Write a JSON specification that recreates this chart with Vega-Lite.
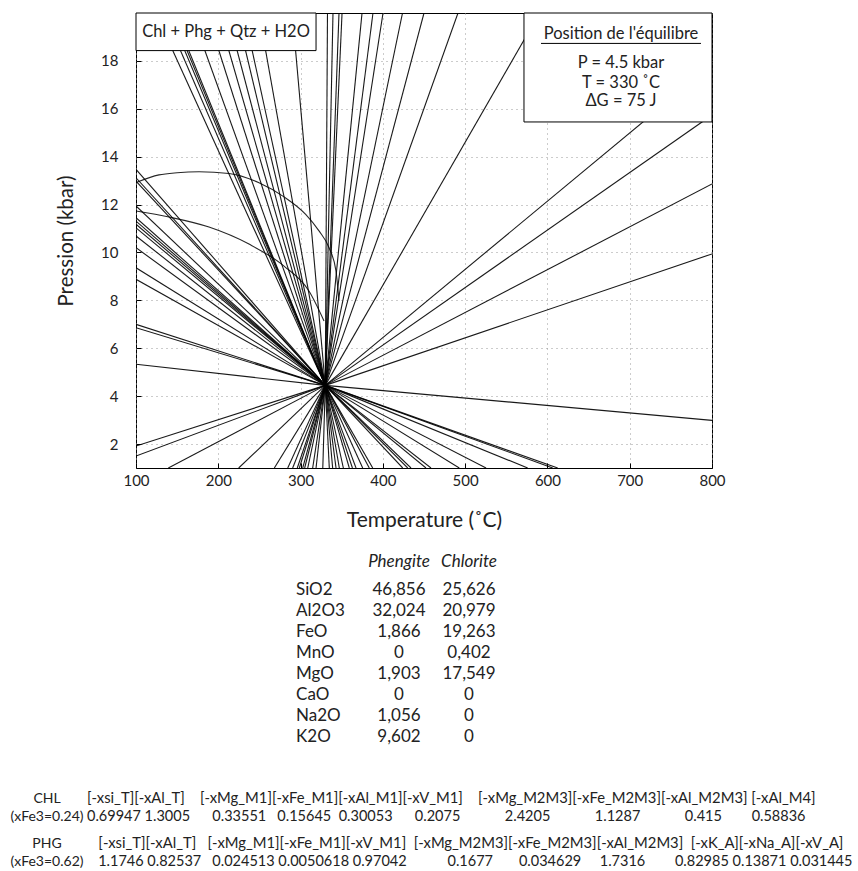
{
  "$schema": "https://vega.github.io/schema/vega-lite/v6.json",
  "padding": {"left": 10, "top": 12, "right": 0, "bottom": 0},
  "autosize": {"type": "pad"},
  "background": "white",
  "bounds": "flush",
  "spacing": 20,
  "config": {
    "font": "Lato",
    "text": {"font": "Lato", "color": "#222"},
    "axis": {"labelFont": "Lato", "titleFont": "Lato", "labelColor": "#222", "titleColor": "#222", "titleFontWeight": "normal"}
  },
  "vconcat": [
    {
      "width": 576,
      "height": 455,
      "view": {"stroke": "#000", "strokeWidth": 1},
      "layer": [
        {
          "data": {"values": [
            {"T": 332.7, "P": 20}, {"T": 339.4, "P": 20}, {"T": 346.7, "P": 20}, {"T": 350.4, "P": 20}, {"T": 374.7, "P": 20},
            {"T": 388.0, "P": 20}, {"T": 400.2, "P": 20}, {"T": 423.9, "P": 20}, {"T": 450.0, "P": 20}, {"T": 491.3, "P": 20},
            {"T": 590.4, "P": 20}, {"T": 800, "P": 17.84}, {"T": 800, "P": 15.74}, {"T": 800, "P": 12.86}, {"T": 800, "P": 9.94},
            {"T": 123.9, "P": 20}, {"T": 134.3, "P": 20}, {"T": 140.1, "P": 20}, {"T": 143.2, "P": 20}, {"T": 145.5, "P": 20},
            {"T": 167.3, "P": 20}, {"T": 186.2, "P": 20}, {"T": 199.7, "P": 20}, {"T": 210.9, "P": 20}, {"T": 222.3, "P": 20},
            {"T": 231.2, "P": 20}, {"T": 249.4, "P": 20}, {"T": 289.9, "P": 20},
            {"T": 100, "P": 13.47}, {"T": 100, "P": 13.12}, {"T": 100, "P": 12.98}, {"T": 100, "P": 11.94}, {"T": 100, "P": 11.45},
            {"T": 100, "P": 11.31}, {"T": 100, "P": 11.18}, {"T": 100, "P": 11.03}, {"T": 100, "P": 10.69}, {"T": 100, "P": 10.2},
            {"T": 100, "P": 9.36}, {"T": 100, "P": 8.88}, {"T": 100, "P": 7.0}, {"T": 100, "P": 6.86}, {"T": 100, "P": 5.33},
            {"T": 100, "P": 1.92}, {"T": 100, "P": 1.5},
            {"T": 800, "P": 2.99},
            {"T": 139.3, "P": 1}, {"T": 224.8, "P": 1}, {"T": 268.1, "P": 1}, {"T": 284.4, "P": 1}, {"T": 290.4, "P": 1},
            {"T": 298.5, "P": 1}, {"T": 302.6, "P": 1}, {"T": 308.7, "P": 1}, {"T": 314.7, "P": 1}, {"T": 318.8, "P": 1},
            {"T": 334.9, "P": 1}, {"T": 339.0, "P": 1}, {"T": 343.1, "P": 1}, {"T": 347.1, "P": 1}, {"T": 359.2, "P": 1},
            {"T": 367.4, "P": 1}, {"T": 375.5, "P": 1}, {"T": 383.5, "P": 1}, {"T": 387.7, "P": 1}, {"T": 424.1, "P": 1},
            {"T": 430.2, "P": 1}, {"T": 434.2, "P": 1}, {"T": 452.4, "P": 1}, {"T": 458.5, "P": 1}, {"T": 492.9, "P": 1},
            {"T": 525.4, "P": 1}, {"T": 576.0, "P": 1}, {"T": 606.4, "P": 1}, {"T": 612.5, "P": 1},
            {"T": 296.0, "P": 1}, {"T": 305.0, "P": 1}, {"T": 327.0, "P": 1}, {"T": 352.0, "P": 1}, {"T": 363.0, "P": 1}
          ]},
          "mark": {"type": "rule", "clip": true, "color": "#000", "strokeWidth": 1.1, "opacity": 0.9},
          "encoding": {
            "x": {"field": "T", "type": "quantitative",
              "scale": {"domain": [100, 800], "nice": false, "zero": false},
              "axis": {"title": "Temperature (˚C)", "values": [100, 200, 300, 400, 500, 600, 700, 800],
                "grid": true, "gridDash": [1, 4], "gridColor": "#999", "domain": false, "labelFlush": false,
                "ticks": true, "tickSize": -5, "tickColor": "#000", "labelFontSize": 15, "labelPadding": 10,
                "titleFontSize": 21, "titlePadding": 21}},
            "y": {"field": "P", "type": "quantitative",
              "scale": {"domain": [1, 20], "nice": false, "zero": false},
              "axis": {"title": "Pression (kbar)", "values": [2, 4, 6, 8, 10, 12, 14, 16, 18],
                "grid": true, "gridDash": [1, 4], "gridColor": "#999", "domain": false, "labelFlush": false,
                "ticks": true, "tickSize": -5, "tickColor": "#000", "labelFontSize": 15, "labelPadding": 23,
                "titleFontSize": 20.5, "titlePadding": 24}},
            "x2": {"datum": 330},
            "y2": {"datum": 4.45}
          }
        },
        {
          "data": {"values": [
            {"g": 1, "k": 0, "T": 100, "P": 12.92}, {"g": 1, "k": 1, "T": 127.9, "P": 13.24}, {"g": 1, "k": 2, "T": 150, "P": 13.33},
            {"g": 1, "k": 3, "T": 176.6, "P": 13.37}, {"g": 1, "k": 4, "T": 213, "P": 13.3}, {"g": 1, "k": 5, "T": 249.5, "P": 12.91},
            {"g": 1, "k": 6, "T": 279.9, "P": 12.32}, {"g": 1, "k": 7, "T": 306.2, "P": 11.59}, {"g": 1, "k": 8, "T": 322.4, "P": 10.9},
            {"g": 1, "k": 9, "T": 334.6, "P": 10.2}, {"g": 1, "k": 10, "T": 343, "P": 9.23}, {"g": 1, "k": 11, "T": 346.7, "P": 7.97},
            {"g": 2, "k": 0, "T": 100, "P": 11.73}, {"g": 2, "k": 1, "T": 140.1, "P": 11.48}, {"g": 2, "k": 2, "T": 188.7, "P": 11.06},
            {"g": 2, "k": 3, "T": 237.3, "P": 10.35}, {"g": 2, "k": 4, "T": 279.9, "P": 9.43}, {"g": 2, "k": 5, "T": 310.2, "P": 8.39},
            {"g": 2, "k": 6, "T": 328.5, "P": 7.14}
          ]},
          "mark": {"type": "line", "clip": true, "color": "#000", "strokeWidth": 1.1, "opacity": 0.85, "interpolate": "monotone"},
          "encoding": {
            "x": {"field": "T", "type": "quantitative"},
            "y": {"field": "P", "type": "quantitative"},
            "detail": {"field": "g"},
            "order": {"field": "k"}
          }
        },
        {
          "data": {"values": [{}]},
          "mark": {"type": "rect", "fill": "white", "stroke": "#000", "strokeWidth": 1},
          "encoding": {"x": {"datum": 100}, "x2": {"datum": 318.8}, "y": {"datum": 18.43}, "y2": {"datum": 20}}
        },
        {
          "data": {"values": [{}]},
          "mark": {"type": "rect", "fill": "white", "stroke": "#000", "strokeWidth": 1},
          "encoding": {"x": {"datum": 571.5}, "x2": {"datum": 800}, "y": {"datum": 15.45}, "y2": {"datum": 20}}
        },
        {
          "data": {"values": [{}]},
          "mark": {"type": "rule", "color": "#000", "strokeWidth": 1},
          "encoding": {"x": {"datum": 592.2}, "x2": {"datum": 786.6}, "y": {"datum": 18.73}}
        },
        {
          "data": {"values": [
            {"t": "Chl + Phg + Qtz + H2O", "T": 209.4, "P": 19.2},
            {"t": "Position de l'équilibre", "T": 689.4, "P": 19.11},
            {"t": "P = 4.5 kbar", "T": 689.4, "P": 17.93},
            {"t": "T = 330 ˚C", "T": 689.4, "P": 17.09},
            {"t": "ΔG = 75 J", "T": 689.4, "P": 16.33}
          ]},
          "mark": {"type": "text", "align": "center", "baseline": "middle", "fontSize": 16.5, "color": "#222"},
          "encoding": {
            "x": {"field": "T", "type": "quantitative"},
            "y": {"field": "P", "type": "quantitative"},
            "text": {"field": "t"}
          }
        }
      ]
    },
    {
      "width": 576,
      "height": 268,
      "view": {"stroke": null},
      "data": {"values": [
        {"ox": "SiO2", "r": 1, "phg": "46,856", "chl": "25,626"},
        {"ox": "Al2O3", "r": 2, "phg": "32,024", "chl": "20,979"},
        {"ox": "FeO", "r": 3, "phg": "1,866", "chl": "19,263"},
        {"ox": "MnO", "r": 4, "phg": "0", "chl": "0,402"},
        {"ox": "MgO", "r": 5, "phg": "1,903", "chl": "17,549"},
        {"ox": "CaO", "r": 6, "phg": "0", "chl": "0"},
        {"ox": "Na2O", "r": 7, "phg": "1,056", "chl": "0"},
        {"ox": "K2O", "r": 8, "phg": "9,602", "chl": "0"}
      ]},
      "layer": [
        {
          "mark": {"type": "text", "align": "left", "baseline": "middle", "fontSize": 17},
          "encoding": {
            "x": {"datum": -0.471, "type": "quantitative", "scale": {"domain": [-2.757, 5.471], "nice": false, "zero": false}, "axis": null},
            "y": {"field": "r", "type": "quantitative", "scale": {"domain": [-3.883, 8.909], "reverse": true, "nice": false, "zero": false}, "axis": null},
            "text": {"field": "ox"}
          }
        },
        {
          "mark": {"type": "text", "align": "center", "baseline": "middle", "fontSize": 17},
          "encoding": {
            "x": {"datum": 1, "type": "quantitative"},
            "y": {"field": "r", "type": "quantitative"},
            "text": {"field": "phg"}
          }
        },
        {
          "mark": {"type": "text", "align": "center", "baseline": "middle", "fontSize": 17},
          "encoding": {
            "x": {"datum": 2, "type": "quantitative"},
            "y": {"field": "r", "type": "quantitative"},
            "text": {"field": "chl"}
          }
        },
        {
          "data": {"values": [{"h": "Phengite", "c": 1}, {"h": "Chlorite", "c": 2}]},
          "mark": {"type": "text", "align": "center", "baseline": "middle", "fontSize": 17, "fontStyle": "italic"},
          "encoding": {
            "x": {"field": "c", "type": "quantitative"},
            "y": {"datum": -0.351, "type": "quantitative"},
            "text": {"field": "h"}
          }
        }
      ]
    },
    {
      "width": 576,
      "height": 90.6,
      "view": {"stroke": null},
      "data": {"values": [
        {"b": 0, "lab": "CHL", "sub": "(xFe3=0.24)",
         "head": "[-xsi_T][-xAl_T]\u00a0\u00a0\u00a0\u00a0[-xMg_M1][-xFe_M1][-xAl_M1][-xV_M1]\u00a0\u00a0\u00a0\u00a0[-xMg_M2M3][-xFe_M2M3][-xAl_M2M3]\u00a0[-xAl_M4]",
         "vals": "0.69947\u00a01.3005\u00a0\u00a0\u00a0\u00a0\u00a0\u00a00.33551\u00a0\u00a0\u00a00.15645\u00a0\u00a00.30053\u00a0\u00a0\u00a0\u00a0\u00a0\u00a00.2075\u00a0\u00a0\u00a0\u00a0\u00a0\u00a0\u00a0\u00a0\u00a0\u00a0\u00a0\u00a02.4205\u00a0\u00a0\u00a0\u00a0\u00a0\u00a0\u00a0\u00a0\u00a0\u00a0\u00a0\u00a01.1287\u00a0\u00a0\u00a0\u00a0\u00a0\u00a0\u00a0\u00a0\u00a0\u00a0\u00a0\u00a00.415\u00a0\u00a0\u00a0\u00a0\u00a0\u00a0\u00a0\u00a00.58836"},
        {"b": 1, "lab": "PHG", "sub": "(xFe3=0.62)",
         "head": "\u200b\u00a0\u00a0\u00a0[-xsi_T][-xAl_T]\u00a0\u00a0\u00a0[-xMg_M1][-xFe_M1][-xV_M1]\u00a0\u00a0[-xMg_M2M3][-xFe_M2M3][-xAl_M2M3]\u00a0\u00a0[-xK_A][-xNa_A][-xV_A]",
         "vals": "\u200b\u00a0\u00a0\u00a01.1746\u00a00.82537\u00a0\u00a0\u00a00.024513\u00a00.0050618\u00a00.97042\u00a0\u00a0\u00a0\u00a0\u00a0\u00a0\u00a0\u00a0\u00a0\u00a0\u00a00.1677\u00a0\u00a0\u00a0\u00a0\u00a0\u00a0\u00a00.034629\u00a0\u00a0\u00a0\u00a0\u00a01.7316\u00a0\u00a0\u00a0\u00a0\u00a0\u00a0\u00a0\u00a00.82985\u00a00.13871\u00a00.031445"}
      ]},
      "layer": [
        {
          "mark": {"type": "text", "align": "center", "baseline": "middle", "fontSize": 14},
          "encoding": {
            "x": {"datum": 0, "type": "quantitative", "scale": {"domain": [2.225, 16.625], "nice": false, "zero": false}, "axis": null},
            "y": {"field": "b", "type": "quantitative", "scale": {"domain": [-0.5, 1.5], "reverse": true, "nice": false, "zero": false}, "axis": null},
            "text": {"field": "lab"}
          }
        },
        {
          "mark": {"type": "text", "align": "center", "baseline": "middle", "fontSize": 14, "dy": 18.3},
          "encoding": {
            "x": {"datum": 0, "type": "quantitative"},
            "y": {"field": "b", "type": "quantitative"},
            "text": {"field": "sub"}
          }
        },
        {
          "mark": {"type": "text", "align": "left", "baseline": "middle", "fontSize": 14.8},
          "encoding": {
            "x": {"datum": 1, "type": "quantitative"},
            "y": {"field": "b", "type": "quantitative"},
            "text": {"field": "head"}
          }
        },
        {
          "mark": {"type": "text", "align": "left", "baseline": "middle", "fontSize": 14.5, "dy": 18.3},
          "encoding": {
            "x": {"datum": 1, "type": "quantitative"},
            "y": {"field": "b", "type": "quantitative"},
            "text": {"field": "vals"}
          }
        }
      ]
    }
  ]
}
